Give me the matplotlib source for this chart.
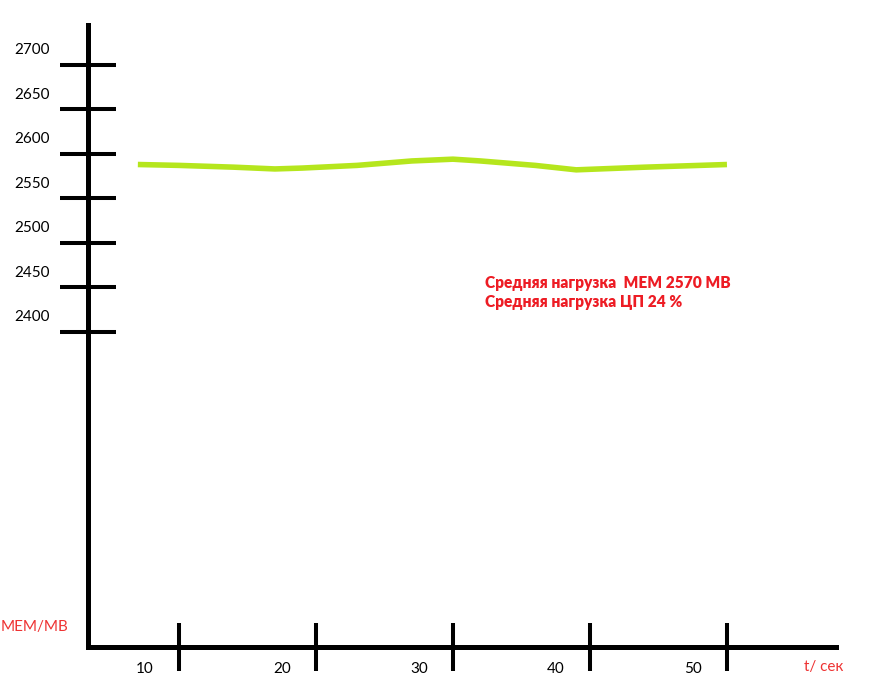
import matplotlib
matplotlib.use("Agg")
import matplotlib.pyplot as plt
from matplotlib.transforms import ScaledTranslation

# ---- data ----
t_values = [7, 10, 14, 17, 19, 23, 27, 30, 32, 36, 39, 44, 50]
mem_values = [2588, 2587, 2585, 2583, 2584, 2587, 2592, 2594, 2592, 2587, 2582, 2585, 2588]
x_ticks = [10, 20, 30, 40, 50]
y_ticks = [2400, 2450, 2500, 2550, 2600, 2650, 2700]
y_label_text = "MEM/MB"
x_label_text = "t/ сек"
note_lines = ["Средняя нагрузка  MEM 2570 MB", "Средняя нагрузка ЦП 24 %"]

plt.rcParams['font.family'] = ['Lato', 'DejaVu Sans']

W, H, DPI = 869, 686, 100
fig = plt.figure(figsize=(W / DPI, H / DPI), dpi=DPI)
fig.patch.set_facecolor('white')

left_px, right_px, bottom_px, top_px = 88, 836, 647, 25
ax = fig.add_axes([left_px / W, (H - bottom_px) / H,
                   (right_px - left_px) / W, (bottom_px - top_px) / H])
ax.set_xlim(3.36, 57.96)
ax.set_ylim(2045, 2745)

ax.plot(t_values, mem_values, color='#b5e61d', lw=4.0, solid_capstyle='butt')

for s in ['top', 'right']:
    ax.spines[s].set_visible(False)
for s in ['left', 'bottom']:
    ax.spines[s].set_linewidth(3.6)
    ax.spines[s].set_color('black')

ax.set_xticks(x_ticks)
ax.set_xticklabels([str(v) for v in x_ticks])
ax.set_yticks(y_ticks)
ax.set_yticklabels([str(v) for v in y_ticks])

ax.tick_params(axis='y', direction='inout', length=40, width=2.9, pad=7.5,
               labelsize=11, colors='black')
ax.tick_params(axis='x', direction='inout', length=35, width=2.9, pad=-7,
               labelsize=11, colors='black')

for lbl in ax.get_yticklabels():
    lbl.set_transform(lbl.get_transform() + ScaledTranslation(0, 0.16, fig.dpi_scale_trans))
for lbl in ax.get_xticklabels():
    lbl.set_transform(lbl.get_transform() + ScaledTranslation(-0.34, 0, fig.dpi_scale_trans))

ax.patch.set_alpha(0)

# axis labels in red
fig.text(1 / W, 1 - 627 / H, y_label_text, color='#ee3333', fontsize=11,
         ha='left', va='center')
fig.text(804 / W, 1 - 667 / H, x_label_text, color='#ee3333', fontsize=11,
         ha='left', va='center')

# annotation
fig.text(485 / W, 1 - 283 / H, note_lines[0], color='#ed1c24', fontsize=11.2,
         fontweight='heavy', ha='left', va='center')
fig.text(485 / W, 1 - 302 / H, note_lines[1], color='#ed1c24', fontsize=11.2,
         fontweight='heavy', ha='left', va='center')

fig.savefig('out.png', dpi=DPI, facecolor='white')
